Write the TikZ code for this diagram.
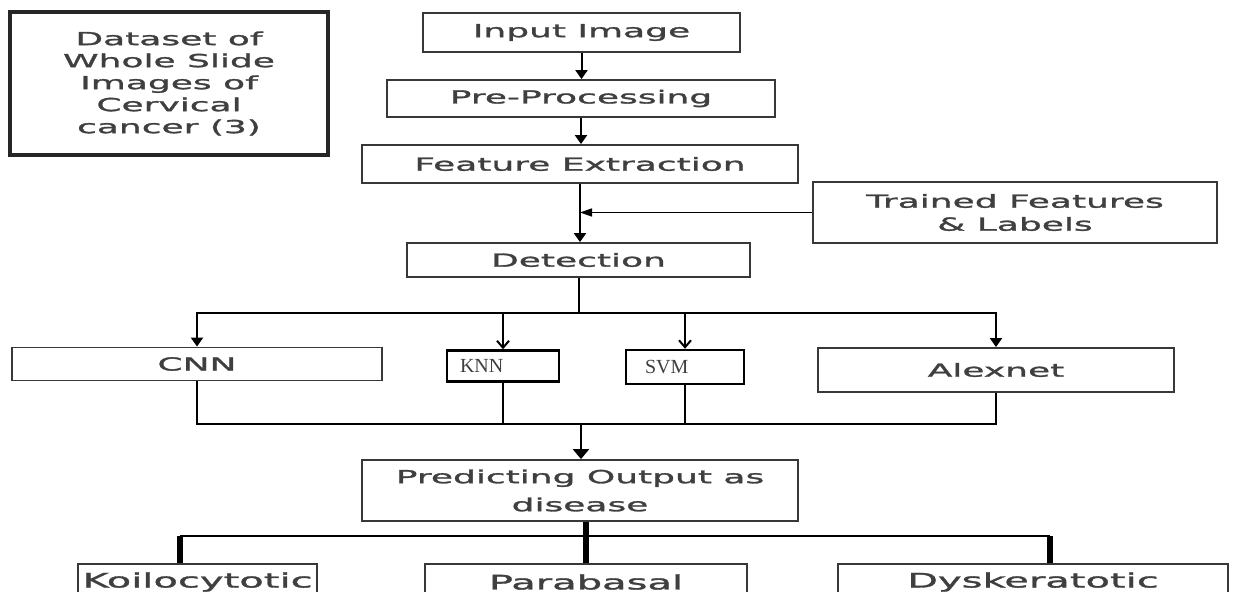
\documentclass[tikz,border=0pt]{standalone}
\usepackage{fontspec}
\setmainfont{DejaVu Sans}[FakeStretch=2.0,FakeBold=1.6]
\newfontfamily\algofont{Liberation Serif}
\usetikzlibrary{arrows.meta}
\definecolor{inkgray}{HTML}{3F3F3F}
\definecolor{edgegray}{HTML}{383838}

\begin{document}
\begin{tikzpicture}[x=0.5pt,y=-0.5pt,line cap=butt,line join=miter,
  box/.style={draw=edgegray,line width=.9pt,inner sep=0pt,align=center,
              text=inkgray,font=\fontsize{9}{11}\selectfont},
  algo/.style={draw=black,line width=1.2pt,inner ysep=0pt,align=left,
               text=inkgray,font=\algofont\fontsize{10}{12}\selectfont},
  link/.style={line width=1pt},
  flow/.style={link,-{Triangle[width=6pt,length=4.5pt]}},
  open/.style={link,-{Straight Barb[width=6pt,length=3.5pt]}},
  bus/.style={line width=1.4pt},
  stub/.style={line width=2.6pt}]
\useasboundingbox (0,0) rectangle (1233,592);
\clip (0,0) rectangle (1233,592);

% source data
\node[box,line width=1.6pt,draw=black!85,minimum width=159pt,minimum height=71.5pt] (dset)
  at (169,83.5) {Dataset of\\Whole Slide\\Images of\\Cervical\\cancer (3)};

% pipeline
\node[box,minimum width=158.5pt,minimum height=19.5pt] (inp) at (581.5,32.5) {Input Image};
\node[box,minimum width=194pt,minimum height=18.5pt] (pre) at (581,98.5) {Pre-Processing};
\node[box,minimum width=218pt,minimum height=19pt] (fex) at (580,164) {Feature Extraction};
\node[box,minimum width=202pt,minimum height=30.5pt,font=\fontsize{9}{11.5}\selectfont] (trn)
  at (1015,212.5) {Trained Features\\\& Labels};
\node[box,minimum width=171.5pt,minimum height=17pt] (det) at (578.5,260) {Detection};

% classifiers
\node[box,minimum width=185pt,minimum height=16.5pt] (cnn) at (197,364) {CNN};
\node[algo,text width=43pt,inner xsep=6.5pt,minimum height=15.5pt] (knn) at (503,366) {KNN};
\node[algo,text width=40pt,inner xsep=9.5pt,minimum height=17pt] (svm) at (685,367) {SVM};
\node[box,minimum width=178pt,minimum height=22pt] (alx) at (996,370) {Alexnet};

\node[box,minimum width=218pt,minimum height=30.5pt,font=\fontsize{9}{14}\selectfont] (pred)
  at (580,490.5) {Predicting Output as\\disease};

% outputs
\foreach \nm/\x/\w/\txt in {kol/197.5/119.5pt/Koilocytotic,
                            par/586/161pt/Parabasal,
                            dys/1033/195pt/Dyskeratotic}
  \node[box,font=\fontsize{10}{12}\selectfont,minimum width=\w,minimum height=18pt]
    (\nm) at (\x,582) {\txt};

% connectors
\draw[flow] (inp.south) -- (inp.south |- pre.north);
\draw[flow] (pre.south) -- (pre.south |- fex.north);
\draw[flow] (fex.south) -- (fex.south |- det.north);
\draw[link,line width=.8pt,-{Triangle[width=4pt,length=6pt]}] (trn.west) -- (trn.west -| fex.south);

\coordinate (split) at (578.5,313);
\draw[link] (det.south) -- (split);
\foreach \t in {cnn,alx} \draw[flow] (split) -| (\t.north);
\foreach \t in {knn,svm} \draw[open] (split) -| (\t.north);

\coordinate (merge) at (581,424);
\foreach \t in {cnn,knn,svm,alx} \draw[link] (\t.south) |- (merge);
\draw[line width=1.4pt,-{Triangle[width=8pt,length=5pt]}] (merge) -- (merge |- pred.north);

\coordinate (busL) at (180,536);
\coordinate (busR) at (1050,536);
\draw[bus] (busL) -- (busR);
\draw[stub] (busL) -- (busL |- kol.north);
\draw[stub] (pred.south -| par.north) -- (par.north);
\draw[stub] (busR) -- (busR |- dys.north);
\end{tikzpicture}
\end{document}
